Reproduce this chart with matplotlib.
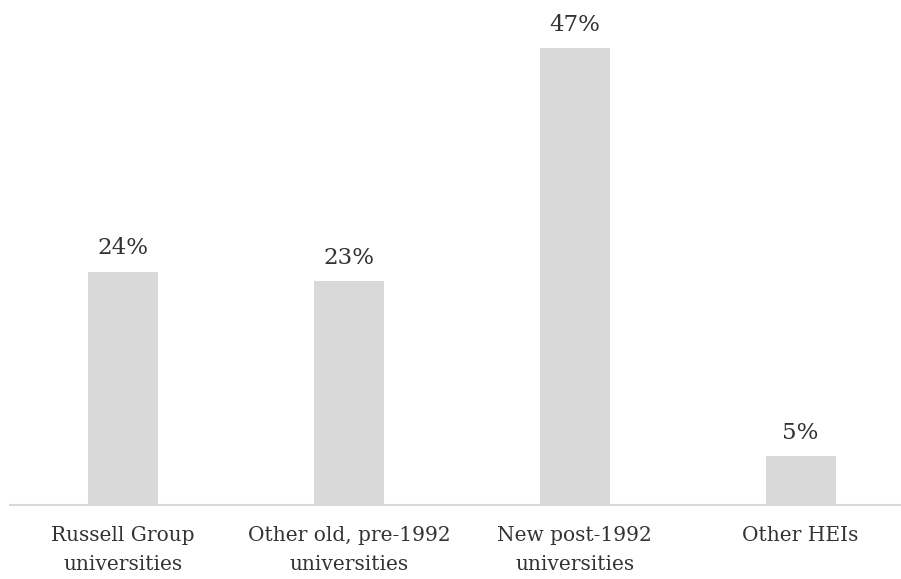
import matplotlib.pyplot as plt
import numpy as np

categories = ["Russell Group\nuniversities", "Other old, pre-1992\nuniversities",
              "New post-1992\nuniversities", "Other HEIs"]
shares = [24, 23, 47, 5]
share_labels = ["24%", "23%", "47%", "5%"]

plt.rcParams["font.family"] = ["DejaVu Serif"]

fig = plt.figure(figsize=(9.01, 5.79), dpi=100)
ax = fig.add_axes([10 / 901, 74 / 579, 890 / 901, 486 / 579])

x = np.arange(len(categories))
bars = ax.bar(x, shares, width=0.31, color="#d9d9d9")

for rect, lab in zip(bars, share_labels):
    ax.annotate(lab, (rect.get_x() + rect.get_width() / 2, rect.get_height()),
                xytext=(0, 9), textcoords="offset points", ha="center", va="bottom",
                fontsize=16.5, color="#333333")

ax.set_xlim(-0.5, 3.44)
ax.set_ylim(0, 50)
ax.set_xticks(x)
ax.set_xticklabels(categories, fontsize=14.5, color="#333333", linespacing=1.7)
ax.tick_params(axis="x", length=0, pad=15)
ax.set_yticks([])
for side in ["left", "right", "top"]:
    ax.spines[side].set_visible(False)
ax.spines["bottom"].set_color("#d9d9d9")
ax.spines["bottom"].set_linewidth(1.5)

fig.savefig("out.png", dpi=100)
